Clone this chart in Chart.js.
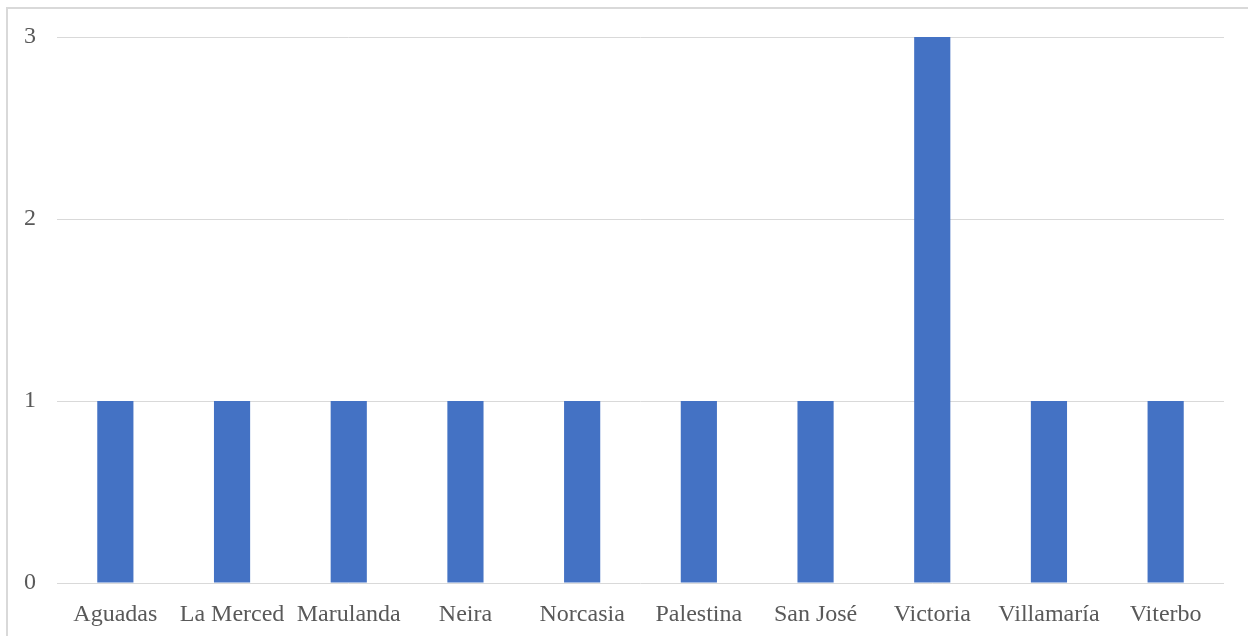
<!DOCTYPE html>
<html>
<head>
<meta charset="utf-8">
<script src="https://cdn.jsdelivr.net/npm/chart.js@4"></script>
<style>
  html, body { margin: 0; padding: 0; background: #fff; }
  #wrap { position: relative; width: 1248px; height: 636px; }
  #frame { position: absolute; left: 6px; top: 7px; right: 0; bottom: 0;
           border-left: 2px solid #d9d9d9; border-top: 2px solid #d9d9d9; }
  canvas { position: absolute; left: 0; top: 0; }
</style>
</head>
<body>
<div id="wrap">
  <div id="frame"></div>
  <canvas id="myChart" width="1248" height="636"></canvas>
</div>
<script>
// Datos del gráfico
const categorias = ['Aguadas', 'La Merced', 'Marulanda', 'Neira', 'Norcasia', 'Palestina', 'San José', 'Victoria', 'Villamaría', 'Viterbo'];
const valores = [1, 1, 1, 1, 1, 1, 1, 3, 1, 1];
const ticksY = [0, 1, 2, 3];

const ctx = document.getElementById('myChart').getContext('2d');
const fuente = { family: '"Liberation Serif", "Times New Roman", serif', size: 24 };

new Chart(ctx, {
    type: 'bar',
    data: {
        labels: categorias,
        datasets: [{
            data: valores,
            backgroundColor: '#4472C4',
            barPercentage: 0.31,
            categoryPercentage: 1
        }]
    },
    options: {
        responsive: false,
        animation: false,
        layout: { padding: { top: 37, right: 24, left: 0, bottom: 0 } },
        plugins: { legend: { display: false }, tooltip: { enabled: false } },
        scales: {
            x: {
                grid: { display: false },
                border: { display: false },
                ticks: { color: '#595959', font: fuente, padding: 9, maxRotation: 0, autoSkip: false },
                afterFit: (s) => { s.height = 53; }
            },
            y: {
                min: 0,
                max: 3,
                afterBuildTicks: (s) => { s.ticks = ticksY.map(v => ({ value: v })); },
                grid: { color: '#d9d9d9', lineWidth: 1, drawTicks: false },
                border: { display: false },
                ticks: { color: '#595959', font: fuente, padding: 21 },
                afterFit: (s) => { s.width = 57; }
            }
        }
    }
});
</script>
</body>
</html>
